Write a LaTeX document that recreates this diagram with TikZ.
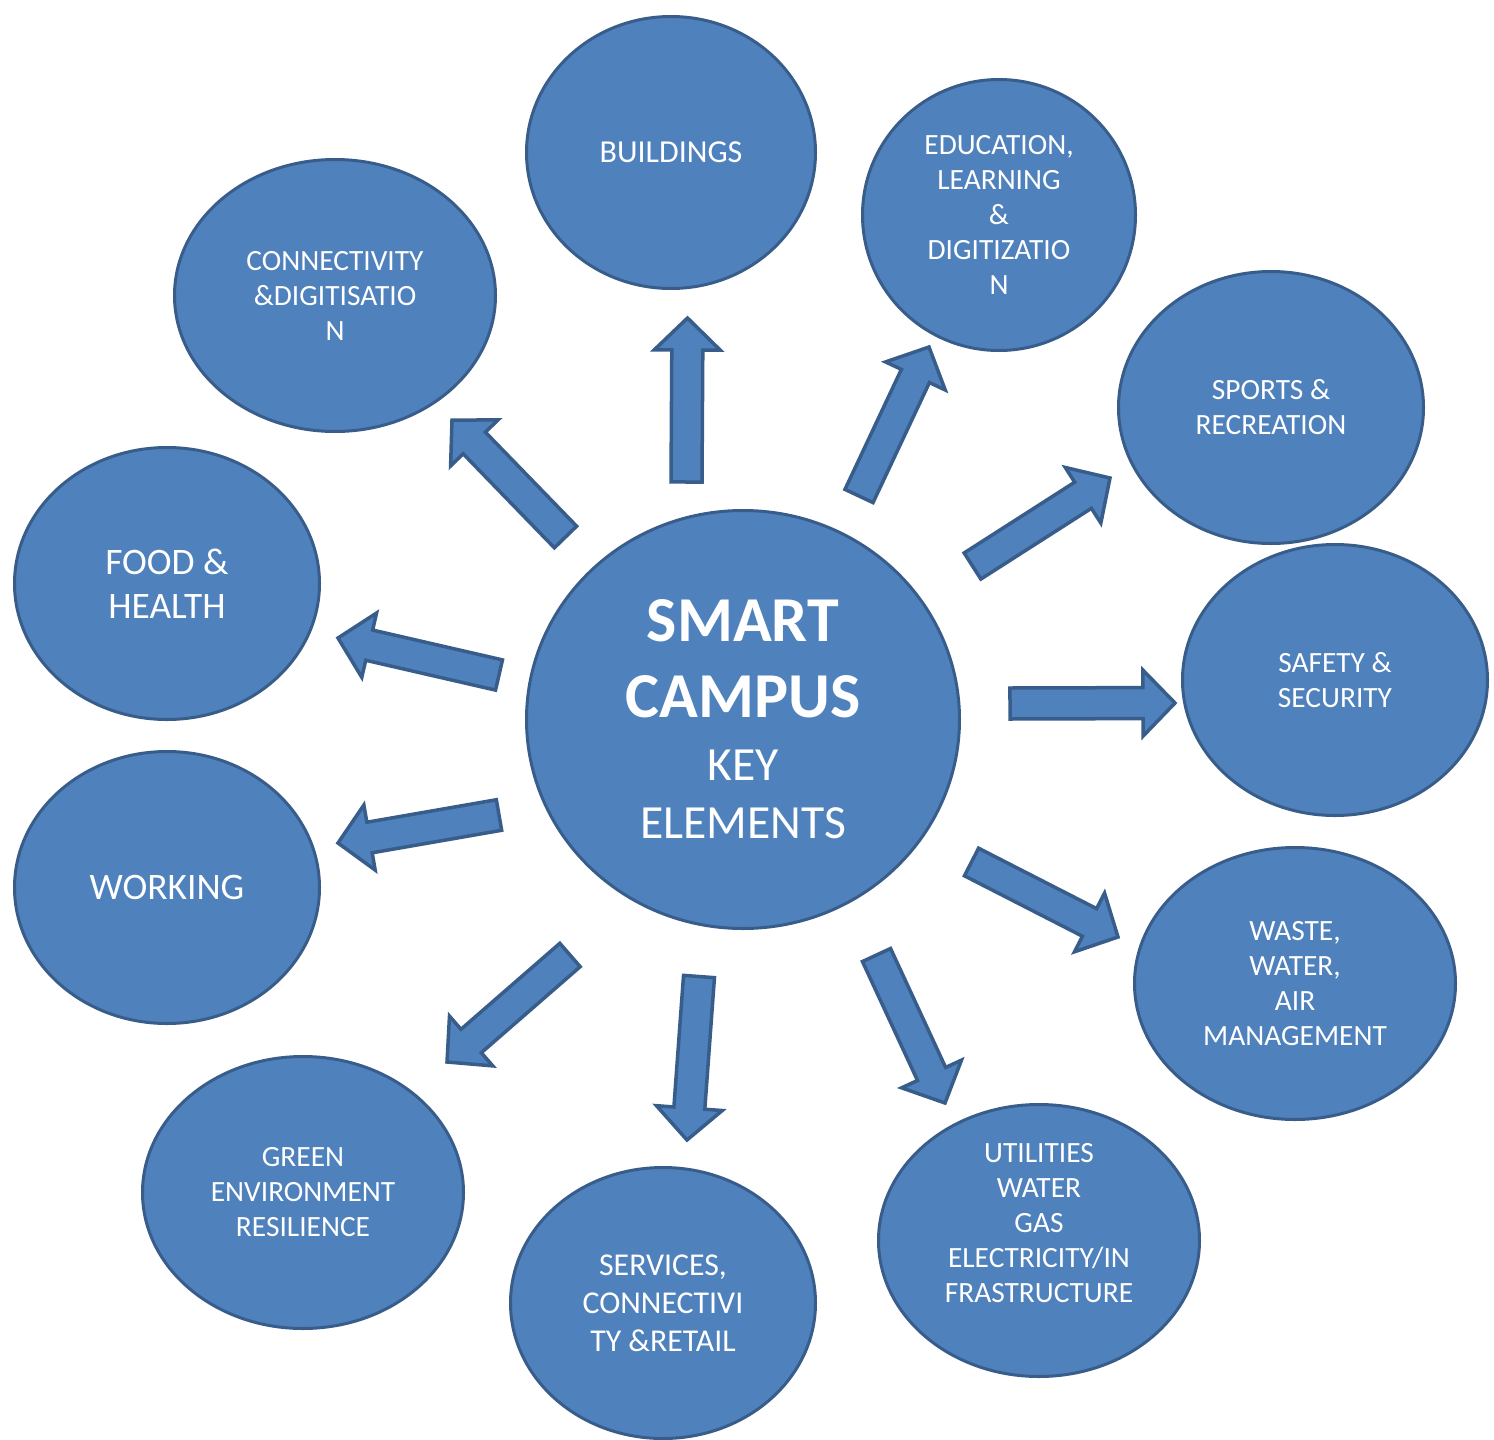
\documentclass[tikz,border=0pt]{standalone}
\usepackage{fontspec}
\setmainfont{Carlito}
\usetikzlibrary{calc,shapes.geometric}
\definecolor{nodeblue}{HTML}{4F81BD}
\definecolor{edgeblue}{HTML}{385D8A}
\newcommand\blockarrow[2]{%
  \coordinate (#1hb) at ($(#2)!16pt!(#1)$);
  \draw[barrow] ($(#1)!7.75pt!90:(#2)$) -- ($(#1hb)!7.75pt!90:(#2)$) -- ($(#1hb)!16.5pt!90:(#2)$) -- (#2)
    -- ($(#1hb)!16.5pt!-90:(#2)$) -- ($(#1hb)!7.75pt!-90:(#2)$) -- ($(#1)!7.75pt!-90:(#2)$) -- cycle;
}
\begin{document}
\begin{tikzpicture}[x=0.5pt,y=-0.5pt,
  bubble/.style={ellipse, fill=nodeblue, draw=edgeblue, line width=1.5pt, inner sep=0pt,
    text=white, align=center, font=\fontsize{14.7}{17.5}\selectfont},
  esize/.style 2 args={minimum width=#1*0.5pt-1.5pt, minimum height=#2*0.5pt-1.5pt},
  plain/.style={text=white, align=center, font=\fontsize{14.7}{17.5}\selectfont},
  barrow/.style={fill=nodeblue, draw=edgeblue, line width=1.75pt, line join=miter}]
\useasboundingbox (0,0) rectangle (1494,1440);

% centre
\node[bubble, esize={436}{421}, font=\fontsize{23.8}{28.85}\selectfont] (c) at (743,719.5) {%
  \fontsize{32}{28.85}\selectfont\bfseries SMART\\[9pt]
  \fontsize{32}{28.85}\selectfont\bfseries CAMPUS\\[2.8pt]
  \fontsize{23.8}{28.85}\selectfont\mdseries KEY\\
  \fontsize{23.8}{28.85}\selectfont\mdseries ELEMENTS};

% surrounding elements
\node[bubble, esize={292}{275}, font=\fontsize{16}{19}\selectfont] (bld) at (671,152.5) {BUILDINGS};
\node[bubble, esize={276}{274}] (edu) at (999,215) {EDUCATION,\\LEARNING\\\&\\DIGITIZATIO\\N};
\node[bubble, esize={324}{275}] (con) at (335,295.5) {CONNECTIVITY\\\&DIGITISATIO\\N};
\node[bubble, esize={308}{275}] (spo) at (1271,407.5) {SPORTS \&\\RECREATION};
\node[bubble, esize={308}{275}, font=\fontsize{18.7}{22}\selectfont] (foo) at (167,583.5) {FOOD \&\\HEALTH};
\node[bubble, esize={308}{274}] (saf) at (1335,680) {SAFETY \&\\SECURITY};
\node[bubble, esize={308}{275}, font=\fontsize{18.7}{22}\selectfont] (wor) at (167,887.5) {WORKING};
\node[bubble, esize={324}{275}] (was) at (1295,983.5) {WASTE,\\WATER,\\AIR\\MANAGEMENT};
\node[bubble, esize={324}{275}] (gre) at (303,1192.5) {GREEN\\ENVIRONMENT\\RESILIENCE};
\node[bubble, esize={308}{274}, font=\fontsize{15.9}{19}\selectfont] (ser) at (663,1303) {SERVICES,\\CONNECTIVI\\TY \&RETAIL};
\node[bubble, esize={324}{275}] (uti) at (1039,1240.5) {};
\node[plain] (utitext) at (1039,1223) {UTILITIES\\WATER\\GAS\\ELECTRICITY/IN\\FRASTRUCTURE};

% arrow end points
\coordinate (s1) at (686.5,482);  \coordinate (t1) at (687.5,318);
\coordinate (s2) at (859,496);    \coordinate (t2) at (929,347);
\coordinate (s3) at (565.5,537);  \coordinate (t3) at (452,420);
\coordinate (s4) at (972.5,566);  \coordinate (t4) at (1110,478);
\coordinate (s5) at (499,675);    \coordinate (t5) at (338,638);
\coordinate (s6) at (1010,703.5); \coordinate (t6) at (1175,703);
\coordinate (s7) at (499,815);    \coordinate (t7) at (338,843);
\coordinate (s8) at (971.5,862);  \coordinate (t8) at (1118,937);
\coordinate (s9) at (570,955);    \coordinate (t9) at (447,1062);
\coordinate (s10) at (699,976.5); \coordinate (t10) at (687,1140);
\coordinate (s11) at (876.5,955); \coordinate (t11) at (945,1103);

\blockarrow{s1}{t1}
\blockarrow{s2}{t2}
\blockarrow{s3}{t3}
\blockarrow{s4}{t4}
\blockarrow{s5}{t5}
\blockarrow{s6}{t6}
\blockarrow{s7}{t7}
\blockarrow{s8}{t8}
\blockarrow{s9}{t9}
\blockarrow{s10}{t10}
\blockarrow{s11}{t11}
\end{tikzpicture}
\end{document}
